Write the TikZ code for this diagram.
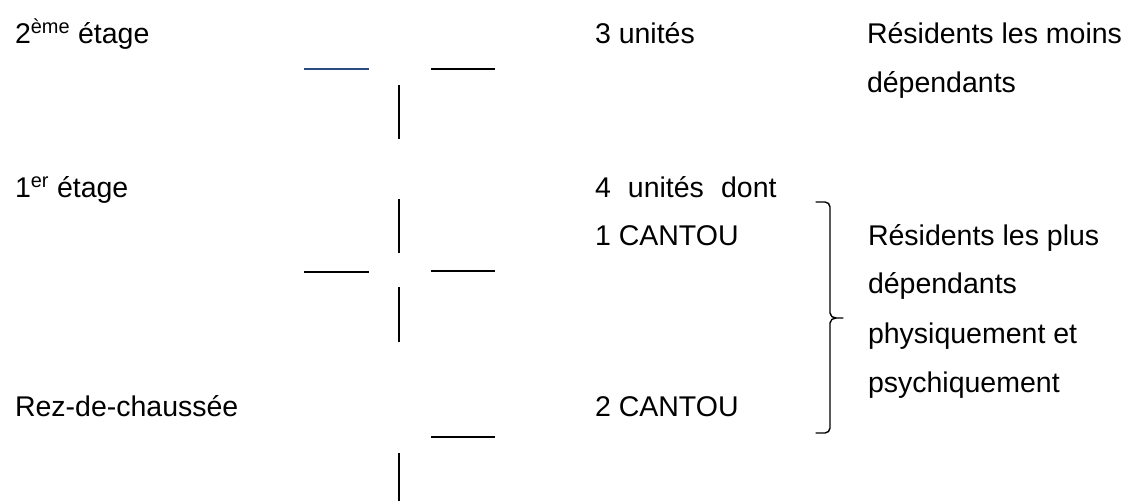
\documentclass[tikz,border=0pt]{standalone}
\usepackage{fontspec}
\setmainfont{Liberation Sans}
\definecolor{lineblue}{RGB}{41,76,130}
\begin{document}
\begin{tikzpicture}[x=1pt,y=-1pt,
  lbl/.style={anchor=base west,inner sep=0pt,outer sep=0pt,font=\fontsize{28.5}{34}\selectfont},
  seg/.style={line width=2pt,black},
  brace/.style={line width=1.4pt,black,line cap=round,line join=round}]
\useasboundingbox (0,0) rectangle (1131,501);
% left column
\node[lbl] (t2) at (15,43) {2\textsuperscript{ème} étage};
\node[lbl] (t1) at (15,197) {1\textsuperscript{er} étage};
\node[lbl] (t0) at (15,416) {Rez-de-chaussée};
% middle column
\node[lbl] (u3) at (595,43) {3 unités};
\node[lbl] (u4) at (595,197) {4\hspace{0.6em}unités\hspace{0.6em}dont};
\node[lbl] (c1) at (595,245) {1 CANTOU};
\node[lbl] (c2) at (595,416) {2 CANTOU};
% right column
\node[lbl] (r1) at (867,43) {Résidents les moins};
\node[lbl] (r2) at (867,92) {dépendants};
\node[lbl] (p1) at (868,245) {Résidents les plus};
\node[lbl] (p2) at (868,293) {dépendants};
\node[lbl] (p3) at (868,343) {physiquement et};
\node[lbl] (p4) at (868,392) {psychiquement};
% stair-like segments
\draw[seg,lineblue] (304,69) -- (369,69);
\draw[seg] (431,69) -- (495,69);
\draw[seg] (399,85) -- (399,139);
\draw[seg] (399,199) -- (399,253);
\draw[seg] (304,272) -- (369,272);
\draw[seg] (431,271) -- (495,271);
\draw[seg] (399,287) -- (399,342);
\draw[seg] (431,437) -- (495,437);
\draw[seg] (399,453) -- (399,501);
% brace
\draw[brace] (816,202) -- (825,202) to[out=0,in=90] (830,207) -- (830,313)
  to[out=-90,in=180] (836,318) -- (843,318);
\draw[brace] (836,318) to[out=180,in=90] (830,323) -- (830,428)
  to[out=-90,in=0] (825,433) -- (816,433);
\end{tikzpicture}
\end{document}
